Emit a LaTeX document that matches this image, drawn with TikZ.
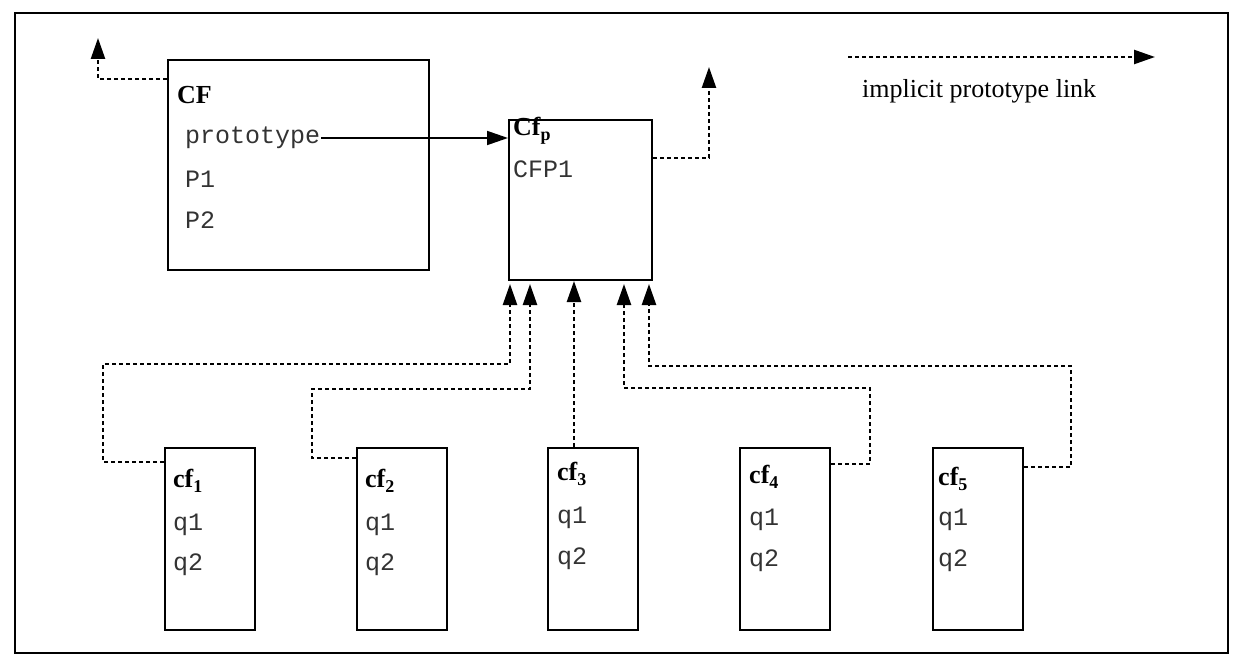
\documentclass[tikz,border=0pt]{standalone}
\usepackage{fontspec}
\setmainfont{Liberation Serif}
\setmonofont{Liberation Mono}
\usetikzlibrary{arrows.meta,calc}
\newcommand{\mysub}[1]{\raisebox{-5pt}{\fontsize{18}{18}\selectfont #1}}
\begin{document}
\begin{tikzpicture}[x=1pt,y=-1pt,
  box/.style={draw, line width=2pt, inner sep=0pt, anchor=north west},
  lbl/.style={inner sep=0pt, anchor=base west, font=\fontsize{26}{30}\selectfont\bfseries},
  mono/.style={inner sep=0pt, anchor=base west, font=\fontsize{25}{30}\selectfont\ttfamily, text=black!80},
  plain/.style={inner sep=0pt, anchor=base west, font=\fontsize{26}{30}\selectfont},
  dotlink/.style={line width=2.4pt, dash pattern=on 4pt off 3pt, -{Triangle[length=21pt,width=14pt]}},
  link/.style={line width=1.8pt, -{Triangle[length=21pt,width=14pt]}}]
\useasboundingbox (0,0) rectangle (1243,658);
\draw[line width=2.4pt] (15,13) rectangle (1228,653);

% main boxes
\node[box, minimum width=261pt, minimum height=210pt] (CF) at (167,59) {};
\node[box, minimum width=143pt, minimum height=160pt] (Cfp) at (508,119) {};
\node[box, minimum width=90pt, minimum height=182pt] (cf1) at (164,447) {};
\node[box, minimum width=90pt, minimum height=182pt] (cf2) at (356,447) {};
\node[box, minimum width=90pt, minimum height=182pt] (cf3) at (547,447) {};
\node[box, minimum width=90pt, minimum height=182pt] (cf4) at (739,447) {};
\node[box, minimum width=90pt, minimum height=182pt] (cf5) at (932,447) {};

% CF texts
\node[lbl] (CFl) at (177,104) {CF};
\node[mono] (proto) at (185,144) {prototype};
\node[mono] (P1) at (185,187) {P1};
\node[mono] (P2) at (185,228) {P2};

% Cfp texts
\node[lbl] (Cfpl) at (513,136) {Cf\mysub{p}};
\node[mono] (CFP1) at (513,178) {CFP1};

% cf texts
\node[lbl] (cf1l) at (173,487) {cf\mysub{1}};
\node[mono] (cf1a) at (173,530) {q1};
\node[mono] (cf1b) at (173,570) {q2};
\node[lbl] (cf2l) at (365,487) {cf\mysub{2}};
\node[mono] (cf2a) at (365,530) {q1};
\node[mono] (cf2b) at (365,570) {q2};
\node[lbl] (cf3l) at (557,480) {cf\mysub{3}};
\node[mono] (cf3a) at (557,523) {q1};
\node[mono] (cf3b) at (557,564) {q2};
\node[lbl] (cf4l) at (749,483) {cf\mysub{4}};
\node[mono] (cf4a) at (749,525) {q1};
\node[mono] (cf4b) at (749,566) {q2};
\node[lbl] (cf5l) at (938,485) {cf\mysub{5}};
\node[mono] (cf5a) at (938,525) {q1};
\node[mono] (cf5b) at (938,566) {q2};

% legend
\coordinate (lgs) at (848,57);
\coordinate (lge) at (1155,57);
\draw[dotlink] (lgs) -- (lge);
\node[plain] (lgt) at (862,98) {implicit prototype link};

% prototype link
\coordinate (pl) at ($(proto.base east)+(1,-6)$);
\draw[link] (pl) -- (pl -| Cfp.west);

% implicit links upward
\coordinate (tl) at (98,38);
\draw[dotlink] ($(CF.north west)+(0,20)$) -| (tl);
\coordinate (tr) at (709,67);
\draw[dotlink] ($(Cfp.north east)+(0,39)$) -| (tr);

% from the cf boxes to Cfp
\coordinate (k1) at (103,364);
\draw[dotlink] ($(cf1.north west)+(0,15)$) -| (k1) -| ($(Cfp.south west)+(2,3)$);
\coordinate (k2) at (312,389);
\draw[dotlink] ($(cf2.north west)+(0,11)$) -| (k2) -| ($(Cfp.south west)+(22,3)$);
\draw[dotlink] ($(cf3.north west)+(27,0)$) -- ($(Cfp.south west)+(66,0)$);
\coordinate (k4) at (870,388);
\draw[dotlink] ($(cf4.north east)+(0,17)$) -| (k4) -| ($(Cfp.south west)+(116,3)$);
\coordinate (k5) at (1071,366);
\draw[dotlink] ($(cf5.north east)+(0,20)$) -| (k5) -| ($(Cfp.south west)+(141,3)$);
\end{tikzpicture}
\end{document}
